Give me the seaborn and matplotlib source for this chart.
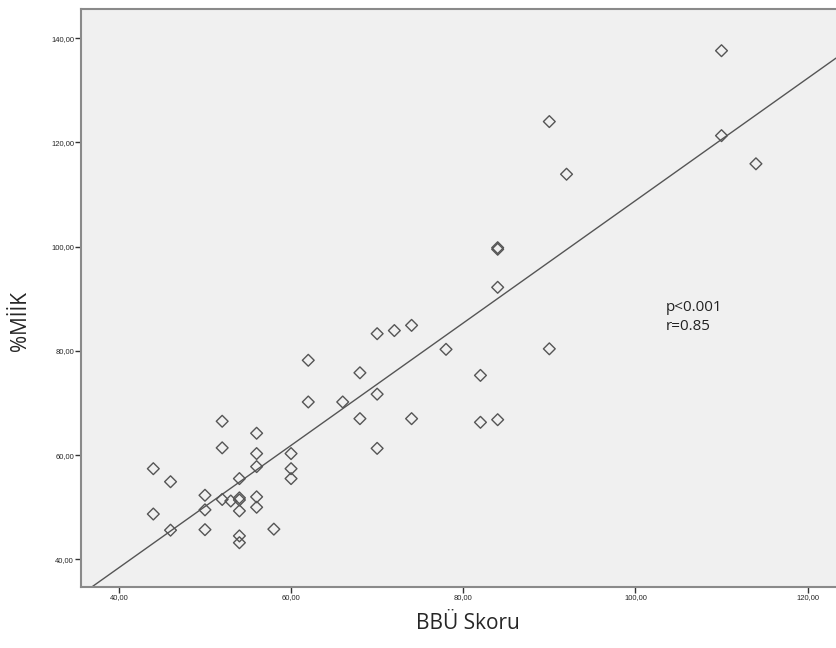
import pandas as pd
import matplotlib.pyplot as plt
import seaborn as sns
from matplotlib.ticker import FuncFormatter

# Data
bbu_skoru = [110, 90, 92, 84, 84, 84, 110, 114,
             62, 70, 72, 74, 78, 68, 82, 90,
             62, 66, 70, 68, 74, 82, 84, 70,
             52, 56, 52, 56, 60, 56, 60, 60, 54, 46,
             50, 52, 53, 54, 54, 56, 56, 54, 50,
             46, 50, 58, 54, 54, 44, 44]
milk = [137.6, 124.0, 113.9, 99.8, 99.5, 92.2, 121.3, 115.9,
        78.2, 83.3, 83.9, 84.9, 80.3, 75.8, 75.3, 80.4,
        70.2, 70.2, 71.7, 67.0, 67.0, 66.3, 66.8, 61.3,
        66.5, 64.2, 61.4, 60.3, 60.3, 57.8, 57.4, 55.5, 55.5, 54.9,
        52.3, 51.5, 51.2, 51.8, 51.4, 52.0, 50.0, 49.3, 49.5,
        45.6, 45.7, 45.8, 44.5, 43.2, 57.4, 48.7]
x_ticks = [40, 60, 80, 100, 120]
y_ticks = [40, 60, 80, 100, 120, 140]
x_label = 'BBÜ Skoru'
y_label = '%MİİK'
stat_text = 'p<0.001\nr=0.85'

data = pd.DataFrame({'BBU': bbu_skoru, 'MIIK': milk})

sns.set_style('white')
plt.rcParams['font.family'] = ['Open Sans', 'DejaVu Sans']

fig = plt.figure(figsize=(8.36, 6.48), dpi=100)
ax = fig.add_axes([81 / 836, 1 - 587 / 648, 1 - 81 / 836, 578 / 648])
ax.set_facecolor('#f0f0f0')
ax.set_xlim(35.6, 123.3)
ax.set_ylim(34.7, 145.6)

# regresyon dogrusu + noktalar
sns.regplot(x='BBU', y='MIIK', data=data, ax=ax, ci=None, truncate=False,
            marker='D',
            scatter_kws={'s': 36, 'facecolors': 'none', 'edgecolors': '#555555',
                         'linewidths': 1.0, 'alpha': 1, 'zorder': 3},
            line_kws={'color': '#555555', 'lw': 1.0})

ax.set_xticks(x_ticks)
ax.set_yticks(y_ticks)
fmt = FuncFormatter(lambda v, p: f'{v:.2f}'.replace('.', ','))
ax.xaxis.set_major_formatter(fmt)
ax.yaxis.set_major_formatter(fmt)
ax.tick_params(axis='both', direction='out', length=4, width=1, color='#333333',
               labelsize=5.5, pad=1, bottom=True, left=True)
for lab in ax.get_xticklabels() + ax.get_yticklabels():
    lab.set_family(['Liberation Sans', 'DejaVu Sans'])

for s in ['left', 'bottom', 'top']:
    ax.spines[s].set_color('#8a8a8a')
    ax.spines[s].set_linewidth(1.5)
ax.spines['right'].set_visible(False)

ax.set_xlabel(x_label, fontsize=15)
ax.set_ylabel(y_label, fontsize=15)
ax.xaxis.set_label_coords(0.512, -0.045, transform=ax.transAxes)
ax.yaxis.set_label_coords(-0.066, 0.46, transform=ax.transAxes)

ax.text(103.5, 86.5, stat_text, fontsize=11, va='center', ha='left',
        linespacing=1.45, color='#222222')

fig.savefig('out.png', dpi=100)
